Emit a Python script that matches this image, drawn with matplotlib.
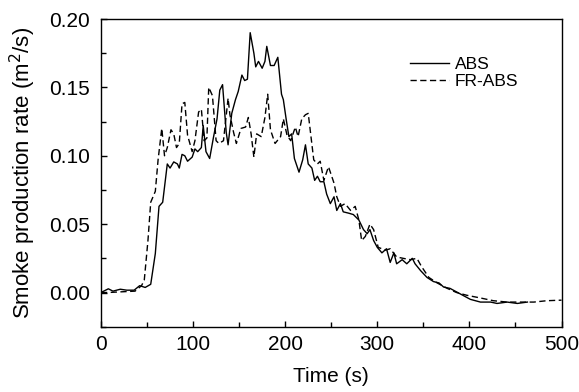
import matplotlib
matplotlib.use("Agg")
import matplotlib.pyplot as plt

plt.rcParams['font.family'] = ['Liberation Sans', 'DejaVu Sans']

# ABS (solid)
abs_t = [0, 8, 13, 21, 28, 36, 42, 48, 54, 59, 63, 67, 72, 75, 79, 83, 85, 88, 91, 94,
         99, 102, 105, 109, 111, 114, 118, 122, 126, 129, 132, 136, 138, 142, 146, 149,
         153, 156, 159, 162, 166, 168, 171, 175, 178, 180, 184, 188, 192, 196, 198, 201,
         204, 207, 210, 215, 219, 222, 225, 229, 232, 235, 238, 242, 245, 249, 253, 256,
         260, 263, 269, 274, 280, 285, 289, 292, 296, 300, 305, 310, 314, 318, 321, 327,
         332, 338, 341, 347, 354, 361, 367, 372, 379, 390, 401, 412, 423, 430, 441, 452, 463]
abs_v = [0.0, 0.0027, 0.001, 0.0024, 0.0017, 0.0017, 0.005, 0.0037, 0.006, 0.0285, 0.063,
         0.066, 0.094, 0.091, 0.0955, 0.094, 0.091, 0.101, 0.100, 0.096, 0.099, 0.105, 0.103,
         0.106, 0.122, 0.103, 0.098, 0.113, 0.127, 0.148, 0.152, 0.117, 0.108, 0.131, 0.141,
         0.147, 0.159, 0.155, 0.156, 0.190, 0.175, 0.165, 0.169, 0.164, 0.169, 0.180, 0.166,
         0.166, 0.172, 0.145, 0.141, 0.127, 0.114, 0.116, 0.098, 0.088, 0.097, 0.108, 0.094,
         0.091, 0.082, 0.085, 0.081, 0.081, 0.072, 0.065, 0.070, 0.060, 0.065, 0.059, 0.058,
         0.057, 0.053, 0.046, 0.043, 0.046, 0.038, 0.033, 0.029, 0.032, 0.022, 0.029, 0.021,
         0.024, 0.021, 0.025, 0.021, 0.016, 0.011, 0.008, 0.007, 0.004, 0.003, -0.001, -0.005,
         -0.007, -0.007, -0.008, -0.007, -0.008, -0.007]

# FR-ABS (dashed)
fr_t = [0, 8, 22, 37, 44, 47, 51, 54, 59, 62, 66, 69, 72, 76, 79, 82, 85, 88, 91, 94, 99,
        102, 106, 109, 112, 115, 117, 121, 125, 128, 133, 138, 140, 144, 147, 152, 157, 160,
        163, 166, 169, 174, 178, 181, 184, 189, 195, 198, 202, 206, 211, 214, 218, 222, 225,
        231, 235, 238, 242, 247, 253, 256, 260, 265, 271, 276, 280, 283, 287, 292, 296, 301,
        309, 314, 321, 328, 336, 343, 348, 356, 365, 376, 386, 397, 412, 426, 441, 455, 470,
        484, 500]
fr_v = [0.0, 0.0, 0.0005, 0.001, 0.005, 0.009, 0.038, 0.066, 0.074, 0.097, 0.120, 0.100,
        0.106, 0.119, 0.116, 0.106, 0.109, 0.138, 0.139, 0.115, 0.103, 0.111, 0.132, 0.134,
        0.111, 0.113, 0.150, 0.144, 0.111, 0.109, 0.111, 0.142, 0.130, 0.117, 0.109, 0.120,
        0.121, 0.128, 0.116, 0.099, 0.116, 0.114, 0.128, 0.145, 0.119, 0.109, 0.114, 0.127,
        0.115, 0.111, 0.121, 0.114, 0.127, 0.130, 0.131, 0.097, 0.094, 0.096, 0.082, 0.092,
        0.080, 0.070, 0.063, 0.065, 0.060, 0.063, 0.053, 0.038, 0.041, 0.050, 0.046, 0.033,
        0.031, 0.032, 0.026, 0.025, 0.024, 0.025, 0.019, 0.011, 0.007, 0.003, 0.000, -0.002,
        -0.004, -0.006, -0.007, -0.007, -0.007, -0.006, -0.0056]

fig = plt.figure(figsize=(5.79, 3.92), dpi=100)
ax = fig.add_axes([0.1744, 0.1666, 0.7954, 0.7849])

ax.plot(abs_t, abs_v, color='black', lw=1.0, label='ABS')
ax.plot(fr_t, fr_v, color='black', lw=1.0, dashes=(4.5, 2.5), label='FR-ABS')

ax.set_xlim(0, 500)
ax.set_ylim(-0.025, 0.20)
ax.set_xticks([0, 100, 200, 300, 400, 500])
ax.set_xticks([50, 150, 250, 350, 450], minor=True)
ax.set_yticks([0.0, 0.05, 0.10, 0.15, 0.20])
ax.set_yticks([-0.025, 0.025, 0.075, 0.125, 0.175], minor=True)
ax.set_yticklabels(['0.00', '0.05', '0.10', '0.15', '0.20'])
ax.tick_params(which='both', direction='in', labelsize=15, width=1.0)
ax.tick_params(axis='y', which='major', length=4.5, pad=8)
ax.tick_params(axis='x', which='major', length=4.5, pad=6)
ax.tick_params(which='minor', length=3.5)

ax.set_xlabel('Time (s)', fontsize=15, labelpad=9)
ax.set_ylabel('Smoke production rate (m$^2$/s)', fontsize=16, labelpad=8)

for s in ax.spines.values():
    s.set_linewidth(1.0)

ax.legend(loc='upper right', bbox_to_anchor=(0.921, 0.90), frameon=False, fontsize=12.5,
          handlelength=2.3, handletextpad=0.3, labelspacing=0.1, borderaxespad=0)

fig.savefig('out.png', dpi=100)
